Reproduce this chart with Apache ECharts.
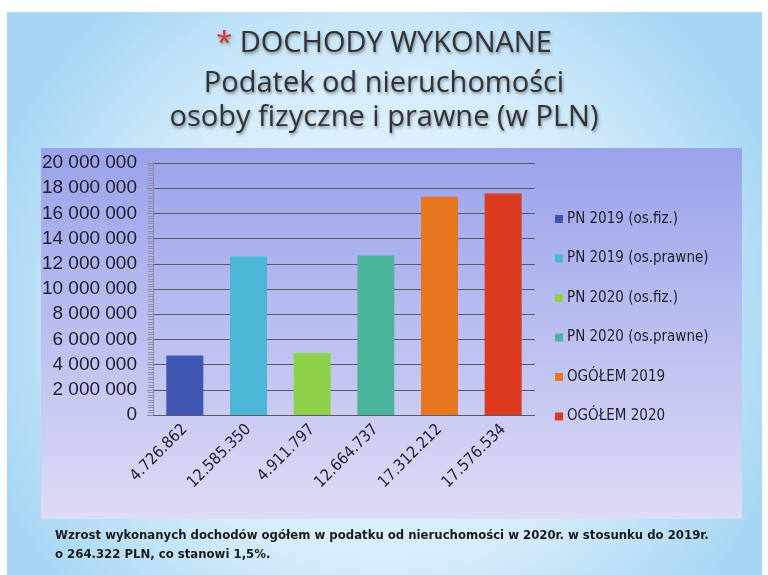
<!DOCTYPE html>
<html>
<head>
<meta charset="utf-8">
<script src="https://cdn.jsdelivr.net/npm/echarts@6/dist/echarts.min.js"></script>
<style>
  html, body { margin: 0; padding: 0; background: #fff; }
  #main { width: 768px; height: 575px; }
</style>
</head>
<body>
<div id="main"></div>
<script>
    // values
    var seriesNames = ['PN 2019 (os.fiz.)', 'PN 2019 (os.prawne)', 'PN 2020 (os.fiz.)',
        'PN 2020 (os.prawne)', 'OGÓŁEM 2019', 'OGÓŁEM 2020'];
    var categories = ['4.726.862', '12.585.350', '4.911.797', '12.664.737', '17.312.212', '17.576.534'];
    var values = [4726862, 12585350, 4911797, 12664737, 17312212, 17576534];
    var colors = ['#3e55b2', '#4cb6d6', '#8fd14a', '#4bb59b', '#e8761e', '#dc3a1f'];

    var myChart = echarts.init(document.getElementById('main'));

    var series = [];
    seriesNames.forEach(function(name, i) {
        series.push({
            name: name,
            type: 'bar',
            stack: 'one',
            barWidth: 37,
            itemStyle: { color: colors[i] },
            data: values.map(function(v, j) { return j === i ? v : '-'; })
        });
    });

    var titleStyle = {
        fontFamily: 'Open Sans',
        fontSize: 29,
        fill: '#333333',
        textAlign: 'center',
        textVerticalAlign: 'middle',
        textShadowColor: 'rgba(0,0,0,0.4)',
        textShadowBlur: 3,
        textShadowOffsetX: 1,
        textShadowOffsetY: 2
    };

    var option = {
        animation: false,
        graphic: [
            {
                type: 'rect', z: -10, silent: true,
                shape: { x: 7, y: 12, width: 755, height: 563 },
                style: {
                    fill: new echarts.graphic.RadialGradient(0.5, 0.55, 0.75, [
                        { offset: 0, color: '#f4fbff' },
                        { offset: 0.6, color: '#d4ecfb' },
                        { offset: 1, color: '#a6d6f4' }
                    ])
                }
            },
            {
                type: 'rect', z: -9, silent: true,
                shape: { x: 41, y: 148, width: 701, height: 371 },
                style: {
                    fill: new echarts.graphic.LinearGradient(0, 0, 0, 1, [
                        { offset: 0, color: '#9aa2eb' },
                        { offset: 0.5, color: '#bbbff0' },
                        { offset: 1, color: '#dedbf6' }
                    ])
                }
            },
            {
                type: 'text', left: 'center', top: 29,
                style: {
                    rich: {
                        s: { fill: '#e0302a', fontSize: 29, fontFamily: 'Open Sans' },
                        t: { fill: '#333333', fontSize: 29, fontFamily: 'Open Sans' }
                    },
                    text: '{s|*} {t|DOCHODY WYKONANE}',
                    fontFamily: 'Open Sans', fontSize: 29,
                    textShadowColor: 'rgba(0,0,0,0.4)', textShadowBlur: 3,
                    textShadowOffsetX: 1, textShadowOffsetY: 2
                }
            },
            { type: 'text', x: 384, y: 84, style: Object.assign({ text: 'Podatek od nieruchomości' }, titleStyle) },
            { type: 'text', x: 384, y: 118, style: Object.assign({ text: 'osoby fizyczne i prawne (w PLN)' }, titleStyle) },
            {
                type: 'text', x: 55, y: 526,
                style: {
                    text: 'Wzrost wykonanych dochodów ogółem w podatku od nieruchomości w 2020r. w stosunku do 2019r.\no 264.322 PLN, co stanowi 1,5%.',
                    fontFamily: 'DejaVu Sans Condensed', fontWeight: 'bold', fontSize: 13,
                    lineHeight: 19, fill: '#1a1a1a'
                }
            }
        ],
        legend: {
            orient: 'vertical',
            left: 550,
            top: 205,
            itemWidth: 8,
            itemHeight: 8,
            itemGap: 21.5,
            icon: 'rect',
            data: seriesNames,
            textStyle: {
                fontFamily: 'DejaVu Sans Condensed',
                fontSize: 15,
                lineHeight: 18,
                color: '#1e1e2a',
                padding: [0, 0, 0, -1]
            }
        },
        grid: {
            left: 153,
            right: 233,
            top: 163,
            bottom: 160
        },
        xAxis: {
            type: 'category',
            data: categories,
            axisLine: { show: false },
            axisTick: { show: false },
            axisLabel: {
                interval: 0,
                rotate: 45,
                margin: 12,
                fontFamily: 'DejaVu Sans Condensed',
                fontSize: 16,
                color: '#1e1e2a'
            }
        },
        yAxis: {
            type: 'value',
            min: 0,
            max: 20000000,
            interval: 2000000,
            axisLine: { show: true, lineStyle: { color: '#8a8aa0', width: 1 } },
            axisTick: { show: true, length: 6, lineStyle: { color: '#8a8aa0' } },
            minorTick: { show: true, splitNumber: 10, length: 5, lineStyle: { color: '#9090a8' } },
            splitLine: { lineStyle: { color: '#5a5a66', width: 1 } },
            axisLabel: {
                margin: 16,
                fontFamily: 'Liberation Sans',
                fontSize: 19,
                color: '#1e1e2a',
                formatter: function(value) {
                    return String(value).replace(/\B(?=(\d{3})+(?!\d))/g, ' ');
                }
            }
        },
        series: series
    };

    myChart.setOption(option);
</script>
</body>
</html>
